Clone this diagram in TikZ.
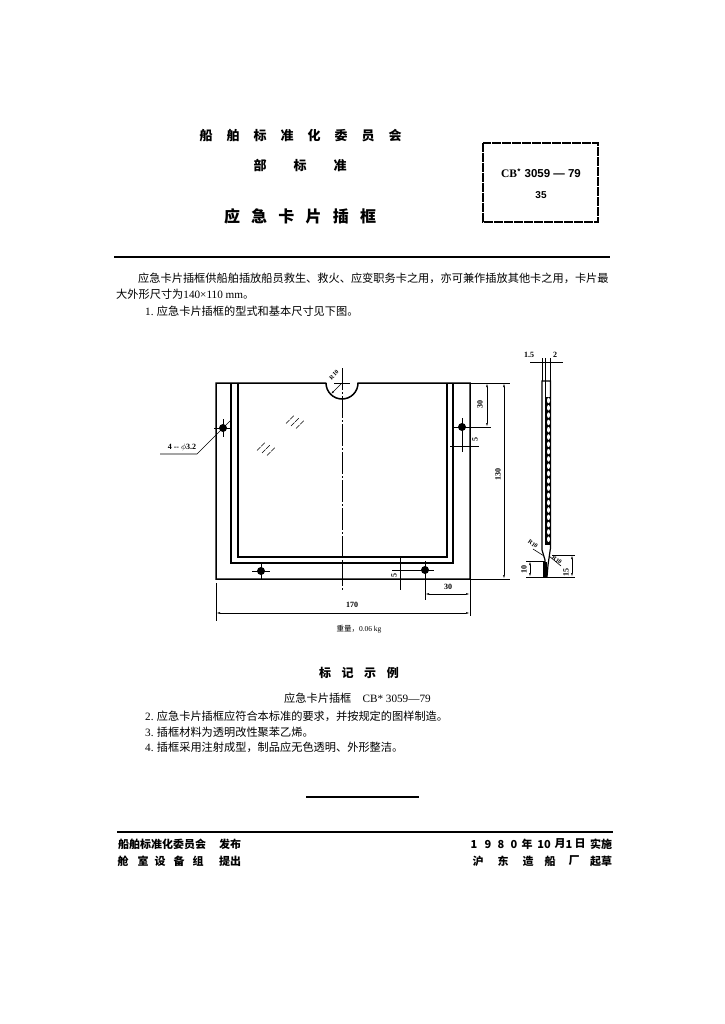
\documentclass[tikz,border=0pt]{standalone}
\usepackage{fontspec}
\setmainfont{Noto Sans CJK SC}
\newfontfamily\latinfont{Liberation Serif}
\newfontfamily\sansbold{Liberation Sans}[BoldFont={Liberation Sans Bold}]
\usetikzlibrary{arrows.meta, positioning}

\tikzset{
  bodytext/.style={anchor=west, inner sep=0pt, font=\fontsize{11.2}{13}\selectfont},
  headtext/.style={inner sep=0pt, font=\fontsize{13}{15}\selectfont\bfseries},
  foottext/.style={inner sep=0pt, font=\fontsize{11}{13}\selectfont\bfseries},
  dimtext/.style={inner sep=0pt, font=\fontsize{8}{9}\selectfont\latinfont\bfseries},
  radtext/.style={inner sep=0pt, font=\fontsize{6}{7}\selectfont\latinfont\bfseries},
  outline/.style={line width=1.5pt, line join=miter},
  thinline/.style={line width=0.6pt},
  dimline/.style={line width=0.6pt, {Latex[length=4pt,width=1.8pt]}-{Latex[length=4pt,width=1.8pt]}},
  centerline/.style={line width=0.6pt, dash pattern=on 22pt off 2pt on 2pt off 2pt},
  holemark/.style={circle, fill=black, inner sep=0pt, minimum size=8pt},
  rulerline/.style={line width=1.2pt}
}

\begin{document}
\begin{tikzpicture}[x=1pt, y=-1pt]
  \useasboundingbox (0,0) rectangle (724,1024);

  % Heading, one character at a time
  \foreach \ch [count=\i from 0] in {船,舶,标,准,化,委,员,会}
    \node[headtext] (org\i) at (206+\i*27, 136) {\ch};
  \foreach \ch [count=\i from 0] in {部,标,准}
    \node[headtext] (dept\i) at (260+\i*40, 166) {\ch};
  \foreach \ch [count=\i from 0] in {应,急,卡,片,插,框}
    \node[headtext, font=\fontsize{16}{18}\selectfont\bfseries] (title\i) at (232+\i*27.2, 216) {\ch};

  % Standard number box
  \draw[line width=1.3pt, dash pattern=on 9pt off 1pt] (483,143) rectangle (598,222);
  \node[inner sep=0pt, font=\fontsize{11.5}{13}\selectfont\bfseries] (stdno) at (541,173)
    {{\latinfont CB}\raisebox{3pt}{\fontsize{7}{8}\selectfont*}\,\,{\sansbold 3059 — 79}};
  \node[inner sep=0pt, font=\fontsize{10}{12}\selectfont\sansbold\bfseries] (stdpage) at (541,195) {35};

  \draw[rulerline] (114,257) -- (610,257);

  % Text above the drawing
  \node[bodytext] (introA) at (138,278) {应急卡片插框供船舶插放船员救生、救火、应变职务卡之用，亦可兼作插放其他卡之用，卡片最};
  \node[bodytext] (introB) at (116,294) {大外形尺寸为{\latinfont 140×110 mm}。};
  \node[bodytext] (itemA) at (145,311) {{\latinfont 1.} 应急卡片插框的型式和基本尺寸见下图。};

  % Front view
  \coordinate (TL) at (216,383);
  \coordinate (TR) at (470,383);
  \coordinate (BL) at (216,579);
  \coordinate (BR) at (470,579);
  \coordinate (NC) at (342,383); % notch centre
  \draw[outline] (NC) ++(-16,0) -- (TL) -- (BL) -- (BR) -- (TR) -- (358,383)
    arc[start angle=0, end angle=180, radius=16];
  \draw[outline] (231,383) -- (231,563) -- (453,563) -- (453,383);
  \draw[outline] (238,383) -- (238,557) -- (447,557) -- (447,383);
  \draw[centerline] (342,368) -- (342,590);
  \draw[thinline] (334,383) -- (350,383);
  \draw[thinline, {Latex[length=4pt,width=1.8pt]}-] (330.7,394.3) -- (NC);
  \node[radtext, rotate=45] (notchR) at (334,375) {R10};

  % Glass marks
  \foreach \cx/\cy in {295/423,266/450} {
    \foreach \d in {-5,0,5}
      \draw[line width=0.5pt, dash pattern=on 5pt off 1pt] (\cx+\d-4,\cy+\d*0.5+3) -- (\cx+\d+4,\cy+\d*0.5-5);
  }

  % Holes
  \foreach \hname/\hx/\hy in {holeA/223/428,holeB/462/427,holeC/261/571,holeD/425/570} {
    \node[holemark] (\hname) at (\hx,\hy) {};
    \draw[thinline] (\hx-9,\hy) -- (\hx+9,\hy) (\hx,\hy-9) -- (\hx,\hy+9);
  }

  % Leader of the holes
  \coordinate (leadA) at (230,421);
  \coordinate (leadB) at (197,454);
  \coordinate (leadC) at (160,454);
  \draw[thinline] (leadA) -- (leadB) -- (leadC);
  \node[dimtext] (holeText) at (182,447) {4 -- $\phi$3.2};

  % Dimensions on the right
  \coordinate (dimTop) at (504,383);
  \coordinate (dimBot) at (504,579);
  \coordinate (dimHole) at (487,427);
  \draw[thinline] (TR) -- (510,383) (BR) -- (510,579) (holeB) -- (491,427);
  \draw[dimline] (dimTop) -- (dimBot);
  \draw[dimline] (487,383) -- (dimHole);
  \node[dimtext, rotate=90] (dimH) at (498,474) {130};
  \node[dimtext, rotate=90] (dimV) at (480,404) {30};
  \draw[thinline] (450,446) -- (479,446);
  \draw[thinline] (462,436) -- (462,452);
  \node[dimtext, rotate=90] (dimS) at (475,439) {5};

  % Dimensions below
  \draw[thinline] (BR) -- (470,616) (BL) ++(0,4) -- (216,621) (holeD) -- (425,600);
  \draw[dimline] (216,613) -- (470,613);
  \draw[dimline] (425,594) -- (470,594);
  \node[dimtext] (dimW) at (352,605) {170};
  \node[dimtext] (dimX) at (448,587) {30};
  \draw[thinline] (400,558) -- (400,590);
  \draw[thinline] (392,570) -- (holeD);
  \node[dimtext, rotate=90] (dimY) at (394,575) {5};

  % Side view
  \draw[line width=1.2pt] (542,381) -- (542,550) -- (545,560) -- (544,577) -- (547,577) -- (548,565) -- (550.5,548) -- (550.5,381) -- cycle;
  \draw[thinline] (545.5,381) -- (545.5,545);
  \fill (546,397) rectangle (551,545);
  \foreach \k in {0,...,19}
    \fill[white] (548.5,400.5+\k*7.3) ellipse (1.5pt and 2.8pt);
  \fill (543,562) rectangle (547,577);
  \draw[thinline] (530,362) -- (563,362);
  \foreach \sx in {542,545.5,550.5}
    \draw[thinline] (\sx,358) -- (\sx,381);
  \node[dimtext] (sideA) at (529,355) {1.5};
  \node[dimtext] (sideB) at (555,355) {2};
  \draw[thinline] (526,561) -- (545,561) (526,577) -- (575,577) (552,555) -- (575,555);
  \draw[dimline] (530,561) -- (530,577);
  \draw[dimline] (572,555) -- (572,577);
  \node[dimtext, rotate=90] (sideC) at (524,569) {10};
  \node[dimtext, rotate=90] (sideD) at (566,572) {15};
  \draw[thinline] (533,549) -- (544,556);
  \draw[thinline] (549,556) -- (561,566);
  \node[radtext, rotate=-35] (sideE) at (533,544) {R10};
  \node[radtext, rotate=-35] (sideF) at (557,560) {R10};

  \node[inner sep=0pt, font=\fontsize{7.5}{9}\selectfont] (weight) at (359,629) {重量，{\latinfont 0.06 kg}};

  % Marking example and remaining clauses
  \foreach \ch [count=\i from 0] in {标,记,示,例}
    \node[headtext, font=\fontsize{12}{14}\selectfont\bfseries] (mark\i) at (325+\i*22.6, 673) {\ch};
  \node[bodytext] (markNo) at (284,698) {应急卡片插框\quad {\latinfont CB* 3059—79}};
  \node[bodytext] (itemB) at (145,716) {{\latinfont 2.} 应急卡片插框应符合本标准的要求，并按规定的图样制造。};
  \node[bodytext] (itemC) at (145,732) {{\latinfont 3.} 插框材料为透明改性聚苯乙烯。};
  \node[bodytext] (itemD) at (145,747) {{\latinfont 4.} 插框采用注射成型，制品应无色透明、外形整洁。};

  \draw[rulerline] (306,797) -- (419,797);
  \draw[rulerline] (117,832) -- (613,832);

  % Footer
  \node[foottext, anchor=west] (footA) at (118,844) {船舶标准化委员会};
  \node[foottext, anchor=west] (footB) at (219,844) {发布};
  \foreach \ch/\fx [count=\i] in {舱/123,室/143,设/160,备/179,组/198}
    \node[foottext] (shop\i) at (\fx,861) {\ch};
  \node[foottext, anchor=west] (footC) at (219,861) {提出};
  \foreach \ch/\fx [count=\i] in {1/477,9/491,8/504,0/517,年/530,10/547,月/563,1/572,日/583}
    \node[foottext] (date\i) at (\fx-3,844) {\ch};
  \node[foottext, anchor=west] (footD) at (590,844) {实施};
  \foreach \ch/\fx [count=\i] in {沪/478,东/503,造/528,船/550,厂/574}
    \node[foottext] (yard\i) at (\fx,861) {\ch};
  \node[foottext, anchor=west] (footE) at (590,861) {起草};
\end{tikzpicture}
\end{document}
